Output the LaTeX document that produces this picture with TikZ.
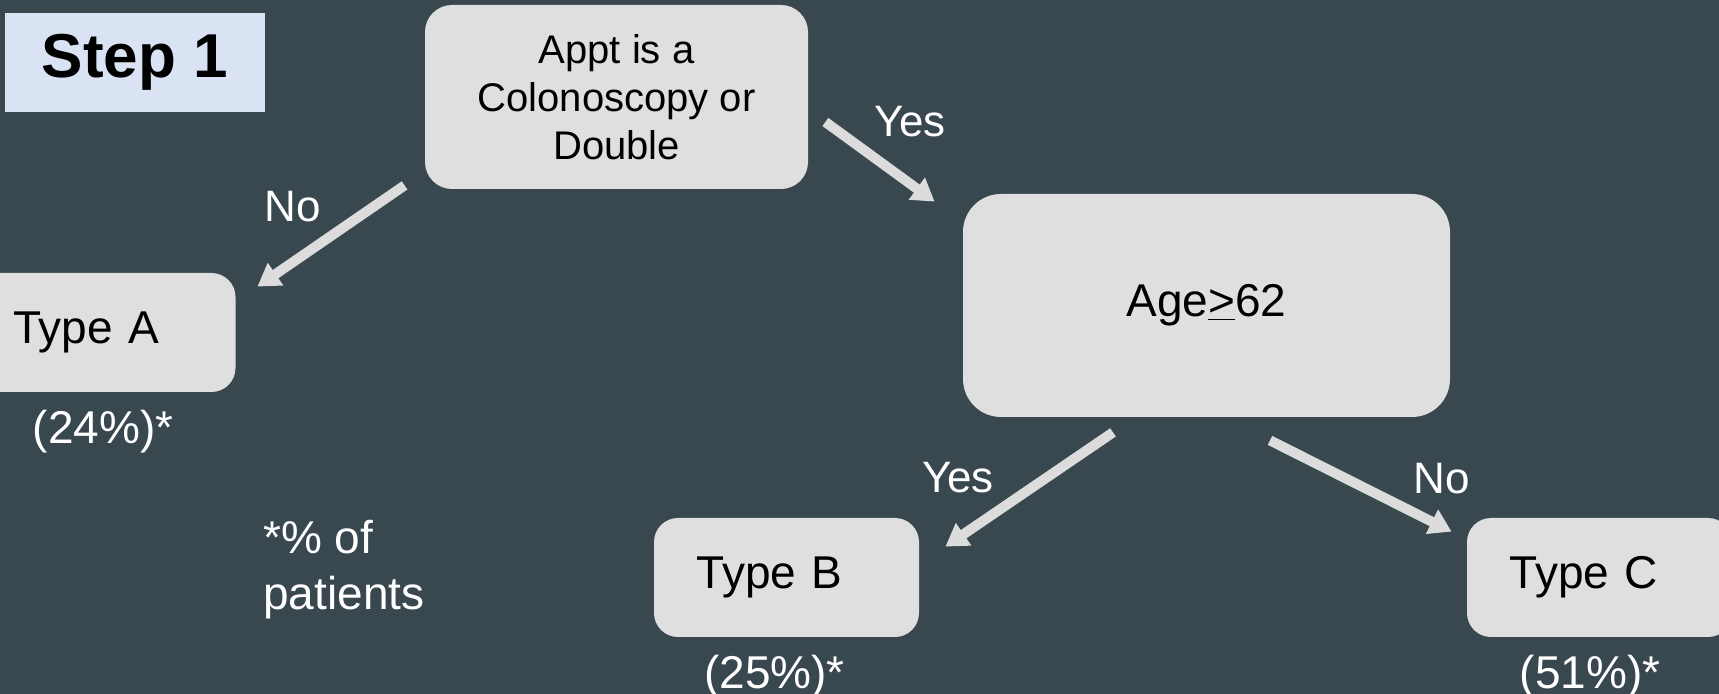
\documentclass[tikz,border=0pt]{standalone}
\usepackage{fontspec}
\setmainfont{Liberation Sans}
\usepackage{tikz}
\usetikzlibrary{arrows.meta,positioning}
\definecolor{slatebg}{HTML}{39474F}
\definecolor{boxgray}{HTML}{DFDFDF}
\definecolor{arrowgray}{HTML}{DCDCDC}
\definecolor{steplilac}{HTML}{DAE3F3}

\begin{document}
\begin{tikzpicture}[x=0.5pt,y=-0.5pt,
  decision/.style={fill=boxgray,align=center,font=\fontsize{20}{24}\selectfont},
  outcome/.style={fill=boxgray,rounded corners=12pt,minimum width=132.5pt,minimum height=59.5pt,text width=90pt,inner xsep=21pt,align=left,font=\fontsize{23}{28}\selectfont},
  share/.style={text=white,inner sep=0pt,font=\fontsize{23}{28}\selectfont},
  answer/.style={text=white,inner sep=0pt,font=\fontsize{22}{26}\selectfont},
  flow/.style={-{Triangle[length=11pt,width=13pt]},line width=5pt,arrowgray}]
  \useasboundingbox (0,0) rectangle (1719,694);
  \fill[slatebg] (0,0) rectangle (1719,694);

  \node[fill=steplilac,minimum width=130pt,minimum height=49.5pt,font=\fontsize{31}{37}\selectfont\bfseries] (step) at (135,62.5) {Step 1};

  \node[decision,rounded corners=13.5pt,minimum width=191.5pt,minimum height=92pt] (appt) at (616.5,97) {Appt is a\\Colonoscopy or\\Double};
  \node[decision,rounded corners=19pt,minimum width=243.5pt,minimum height=111.5pt,font=\fontsize{23}{28}\selectfont] (age) at (1206.5,305.5) {Age\underline{>}62};

  \node[outcome] (typeA) at (103,332.5) {Type A};
  \node[outcome] (typeB) at (786.5,577.5) {Type B};
  \node[outcome] (typeC) at (1599.5,577.5) {Type C};

  \node[share,below=8.5pt of typeA] (shareA) {(24\%)*};
  \node[share,below=8.5pt of typeB,xshift=-6pt] (shareB) {(25\%)*};
  \node[share,below=8.5pt of typeC,xshift=-4.75pt] (shareC) {(51\%)*};
  \node[share,align=left,anchor=north west] (note) at (263,520) {*\% of\\patients};

  \draw[flow] ([shift={(-20,-4)}]appt.south west) -- ([shift={(21.5,14)}]typeA.north east);
  \draw[flow] ([shift={(17,25)}]appt.east) -- ([shift={(-28,8)}]age.north west);
  \draw[flow] ([shift={(-93.5,15)}]age.south) -- ([shift={(26,29)}]typeB.north east);
  \draw[flow] ([shift={(63.5,23)}]age.south) -- ([shift={(-15,14)}]typeC.north west);

  \node[answer] (noA) at (293,207) {No};
  \node[answer] (yesAge) at (910,122) {Yes};
  \node[answer] (yesB) at (958,478) {Yes};
  \node[answer] (noC) at (1442,479) {No};
\end{tikzpicture}
\end{document}
